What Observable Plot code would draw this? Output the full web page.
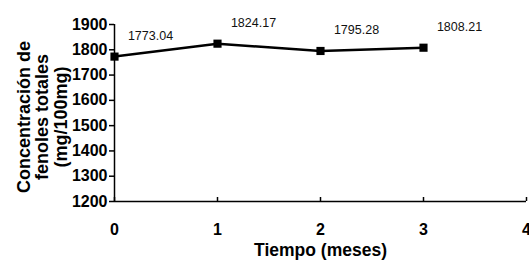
<!DOCTYPE html>
<html><head><meta charset="utf-8">
<script src="https://cdn.jsdelivr.net/npm/d3@7"></script>
<script src="https://cdn.jsdelivr.net/npm/@observablehq/plot@0.6"></script>
<style>body{margin:0;background:#fff;} svg{font-family:"Liberation Sans",Arial,sans-serif;}</style>
</head><body><div id="chart"></div>
<script>
const months = [0, 1, 2, 3];
const values = [1773.04, 1824.17, 1795.28, 1808.21];
const labels = ["1773.04", "1824.17", "1795.28", "1808.21"];
const xTicks = [0, 1, 2, 3, 4];
const yTicks = [1200, 1300, 1400, 1500, 1600, 1700, 1800, 1900];
const xTitle = "Tiempo (meses)";
const yTitle = "Concentración de\nfenoles totales\n(mg/100mg)";

const data = months.map((m, i) => ({m, v: values[i], label: labels[i]}));

const chart = Plot.plot({
  width: 529, height: 260,
  marginLeft: 114, marginRight: 3, marginTop: 24, marginBottom: 59,
  style: {fontFamily: '"Liberation Sans", Arial, sans-serif', color: "#000", background: "#fff"},
  x: {domain: [0, 4]},
  y: {domain: [1200, 1900]},
  marks: [
    Plot.axisY({ticks: yTicks, tickFormat: "d", tickSize: 5, tickPadding: 2, fontSize: 16, fontWeight: "bold", label: null, strokeWidth: 1.5}),
    Plot.axisX({ticks: xTicks, tickFormat: "d", tickSize: -4, tickPadding: 26, fontSize: 16, fontWeight: "bold", label: null, strokeWidth: 1.5}),
    Plot.ruleX([0], {strokeWidth: 1.5}),
    Plot.ruleY([1200], {strokeWidth: 1.5}),
    Plot.text([xTitle], {frameAnchor: "bottom", dy: 54, fontSize: 17.5, fontWeight: "bold", text: d => d}),
    Plot.text([yTitle], {frameAnchor: "left", textAnchor: "middle", dx: -72, dy: 4, rotate: -90, fontSize: 18, fontWeight: "bold", lineHeight: 1.02, text: d => d}),
    Plot.line(data, {x: "m", y: "v", stroke: "#000", strokeWidth: 2.5}),
    Plot.dot(data, {x: "m", y: "v", symbol: "square", r: 4.6, fill: "#000", stroke: "none"}),
    Plot.text(data, {x: "m", y: "v", text: "label", dx: 36, dy: -21, fontSize: 12.5, fill: "#111"})
  ]
});
document.getElementById("chart").appendChild(chart);
</script></body></html>
